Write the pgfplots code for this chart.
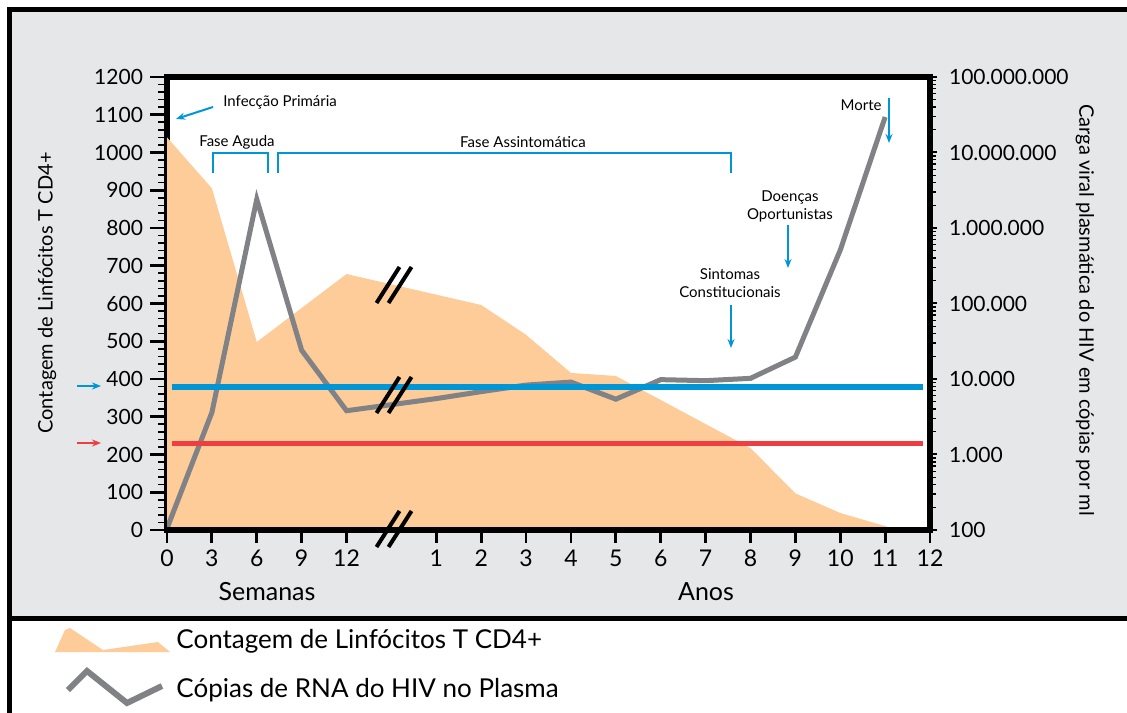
\documentclass[border=0pt]{standalone}
\usepackage{pgfplots}
\pgfplotsset{compat=1.18}
\usepackage{fontspec}
\setmainfont{Lato}
\usetikzlibrary{arrows.meta}
\definecolor{panelgray}{HTML}{E6E7E8}
\definecolor{peach}{HTML}{FDCC99}
\definecolor{hivgray}{HTML}{808285}
\definecolor{hivblue}{HTML}{0096D6}
\definecolor{hivred}{HTML}{EF3E42}
\begin{document}
\begin{tikzpicture}[x=0.5bp,y=0.5bp]
\useasboundingbox (0,0) rectangle (1127,712);
% panel
\fill[panelgray] (9.5,94) rectangle (1145,702.5);
\draw[line width=2.5bp] (9.5,-10) -- (9.5,702.5) -- (1145,702.5);
\draw[line width=2.5bp] (9.5,94) -- (1145,94);

% axis 1: CD4 count (left axis)
\begin{axis}[
  scale only axis, width=381.5bp, height=226.5bp,
  at={(83.5bp,91bp)}, anchor=south west,
  xmin=0, xmax=17, ymin=0, ymax=1200,
  axis background/.style={fill=white},
  axis line style={line width=2.75bp},
  xtick=\empty,
  ytick={0,100,...,1200},
  minor y tick num=4,
  ytick pos=left,
  tick align=outside,
  major tick length=8.5bp, minor tick length=4.5bp,
  major tick style={line width=1.4bp, black},
  minor tick style={line width=0.8bp, black},
  yticklabel style={font=\fontsize{10.5bp}{12bp}\selectfont},
  /pgf/number format/assume math mode=true,
  /pgf/number format/1000 sep={},
]
\addplot[fill=peach, draw=none] coordinates {
  (0,1040) (1,905) (2,498) (4,678) (7,596) (8,517) (9,416) (10,408)
  (13,217) (14,97) (15,45) (16.3,0) (17,0)
} \closedcycle;
\end{axis}

% axis 2: viral load (right log axis)
\begin{axis}[
  scale only axis, width=381.5bp, height=226.5bp,
  at={(83.5bp,91bp)}, anchor=south west,
  xmin=0, xmax=17, ymode=log, ymin=100, ymax=1e8,
  axis x line=none, axis y line*=right,
  axis line style={line width=2.75bp},
  ytick={1e2,1e3,1e4,1e5,1e6,1e7,1e8},
  yticklabels={100,1.000,10.000,100.000,1.000.000,10.000.000,100.000.000},
  tick align=outside,
  major tick length=3.5bp, minor tick length=3bp,
  major tick style={line width=1bp, black},
  minor tick style={line width=0.7bp, black},
  yticklabel style={font=\fontsize{10.5bp}{12bp}\selectfont, xshift=2.5bp},
]
\addplot[hivgray, line width=2.5bp] coordinates {
  (0,105) (1,3600) (2,2400000) (3,24000) (4,3800) (6,5500) (7,6800)
  (8,8300) (9,9100) (10,5400) (11,9800) (12,9500) (13,10200)
  (14,19500) (15,510000) (16,29500000)
};
\end{axis}

% axis 3: x ticks and threshold lines
\begin{axis}[
  scale only axis, width=381.5bp, height=226.5bp,
  at={(83.5bp,91bp)}, anchor=south west,
  xmin=0, xmax=17, ymin=0, ymax=1200,
  axis y line=none, axis x line*=bottom,
  axis line style={line width=2.75bp},
  xtick={0,1,2,3,4,6,7,8,9,10,11,12,13,14,15,16,17},
  xticklabels={0,3,6,9,12,1,2,3,4,5,6,7,8,9,10,11,12},
  tick align=outside,
  major tick length=6.5bp,
  major tick style={line width=1.4bp, black},
  xticklabel style={font=\fontsize{11.5bp}{13bp}\selectfont},
]
\addplot[hivblue, line width=3bp] coordinates {(0.11,380) (16.84,380)};
\addplot[hivred, line width=2.6bp] coordinates {(0.11,230) (16.84,230)};
\end{axis}

% break marks
\foreach \yc in {427,317,183}{
  \draw[line width=2bp] (388-11.5,\yc-18) -- (388+11.5,\yc+18);
  \draw[line width=2bp] (400-11.5,\yc-18) -- (400+11.5,\yc+18);
}

% annotations
\tikzset{ann/.style={font=\fontsize{7.5bp}{9bp}\selectfont, inner sep=0pt},
         barr/.style={hivblue, line width=1bp, -{Stealth[length=4.5bp,width=3.5bp]}}}
\node[ann, anchor=west] at (223,610) {Infecção Primária};
\draw[barr] (213,605) -- (176,593);
\node[ann] at (237,570) {Fase Aguda};
\node[ann] at (523,570) {Fase Assintomática};
\draw[hivblue, line width=1.2bp] (213,539) -- (213,559) -- (268,559) -- (268,539);
\draw[hivblue, line width=1.2bp] (278,539) -- (278,559) -- (731,559) -- (731,539);
\node[ann, align=center] at (790,506) {Doenças\\Oportunistas};
\draw[barr] (788,487) -- (788,444);
\node[ann, align=center] at (730,429) {Sintomas\\Constitucionais};
\draw[barr] (731,407) -- (731,364);
\node[ann, anchor=east] at (882,607) {Morte};
\draw[barr] (889,614) -- (889,569);

% left small arrows
\draw[barr] (77,326) -- (101,326);
\draw[hivred, line width=1bp, -{Stealth[length=4.5bp,width=3.5bp]}] (77,269) -- (101,269);

% axis titles
\node[font=\fontsize{10bp}{12bp}\selectfont, rotate=90] at (47,419) {Contagem de Linfócitos T CD4+};
\node[font=\fontsize{10bp}{12bp}\selectfont, rotate=-90] at (1085,402) {Carga viral plasmática do HIV em cópias por ml};
\node[font=\fontsize{12.5bp}{14bp}\selectfont] at (267,120) {Semanas};
\node[font=\fontsize{12.5bp}{14bp}\selectfont] at (706,120) {Anos};

% legend
\fill[peach] (55,60) -- (65,82) -- (70,84) -- (103,62) -- (158,70) -- (170,60) -- cycle;
\node[font=\fontsize{13bp}{15bp}\selectfont, anchor=west, inner sep=0pt] at (176,71) {Contagem de Linfócitos T CD4+};
\draw[hivgray, line width=3bp] (68,22) -- (87,41) -- (127,9) -- (162,26);
\node[font=\fontsize{13bp}{15bp}\selectfont, anchor=west, inner sep=0pt] at (176,22) {Cópias de RNA do HIV no Plasma};
\end{tikzpicture}
\end{document}
